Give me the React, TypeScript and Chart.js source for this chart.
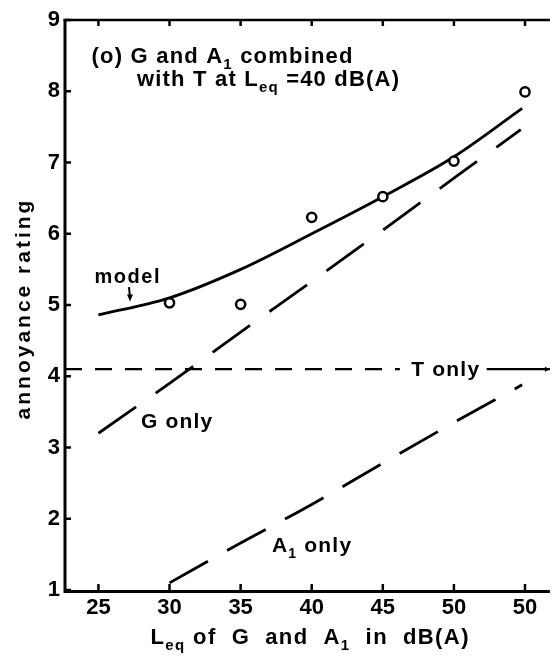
import React, { useEffect, useRef } from "react";
import { Chart, registerables } from "chart.js";
Chart.register(...registerables);

const FONT = '"Liberation Sans", Arial, sans-serif';

// ---- axis ticks ----
const xTicks = [25, 30, 35, 40, 45, 50, 55];
const xTickLabels = ["25", "30", "35", "40", "45", "50", "50"];
const yTicks = [1, 2, 3, 4, 5, 6, 7, 8, 9];
const xMin = 22.65;
const xMax = 56.75;
const yMin = 1;
const yMax = 9;

// ---- measured points (circles) ----
const measuredX = [30, 35, 40, 45, 50, 55];
const measuredY = [5.03, 5.01, 6.23, 6.52, 7.02, 7.99];

// ---- model curve (solid) ----
const modelX = [25, 30, 35, 40, 45, 50, 54.8];
const modelY = [4.86, 5.1, 5.5, 6.0, 6.52, 7.08, 7.76];

// ---- G only (long dashes) ----
const gOnlyX = [25, 30, 35, 40, 45, 50, 54.7];
const gOnlyY = [3.2, 3.9, 4.62, 5.33, 6.05, 6.78, 7.46];

// ---- A1 only (long dashes) ----
const a1OnlyX = [30, 35, 40, 45, 50, 54.8];
const a1OnlyY = [1.1, 1.66, 2.2, 2.78, 3.35, 3.88];

// ---- T only (horizontal) ----
const tOnlyLevel = 4.1;
const tOnlyDashedX = [22.65, 46.2];
const tOnlySolidX = [52.3, 56.75];

const pts = (xs: number[], ys: number[]) => xs.map((x, i) => ({ x, y: ys[i] }));

type Part = { t: string; sub?: boolean };

function drawRich(
  ctx: CanvasRenderingContext2D,
  parts: Part[],
  x: number,
  baseline: number,
  size: number,
  spacing: number,
  align: "left" | "center"
) {
  const fontFor = (p: Part) => `bold ${p.sub ? Math.round(size * 0.68) : size}px ${FONT}`;
  let total = 0;
  for (const p of parts) {
    ctx.font = fontFor(p);
    for (const ch of p.t) total += ctx.measureText(ch).width + spacing;
  }
  total -= spacing;
  let cx = align === "center" ? x - total / 2 : x;
  ctx.textAlign = "left";
  ctx.textBaseline = "alphabetic";
  ctx.fillStyle = "#000";
  for (const p of parts) {
    ctx.font = fontFor(p);
    const dy = p.sub ? size * 0.28 : 0;
    for (const ch of p.t) {
      ctx.fillText(ch, cx, baseline + dy);
      cx += ctx.measureText(ch).width + spacing;
    }
  }
}

const framePlugin = {
  id: "frame",
  afterDatasetsDraw(chart: any) {
    const { ctx, chartArea: a } = chart;
    const xs = chart.scales.x;
    const ys = chart.scales.y;
    ctx.save();
    ctx.strokeStyle = "#000";
    ctx.lineCap = "butt";
    // frame
    ctx.lineWidth = 3;
    ctx.beginPath();
    ctx.moveTo(a.left, a.top - 1);
    ctx.lineTo(a.left, a.bottom + 1.5);
    ctx.lineTo(a.right, a.bottom + 1.5);
    ctx.stroke();
    ctx.lineWidth = 2.5;
    ctx.beginPath();
    ctx.moveTo(a.left - 1.5, a.top);
    ctx.lineTo(a.right, a.top);
    ctx.stroke();
    // inward ticks
    ctx.lineWidth = 2.5;
    for (const v of xTicks) {
      const px = xs.getPixelForValue(v);
      ctx.beginPath();
      ctx.moveTo(px, a.bottom);
      ctx.lineTo(px, a.bottom - 6);
      ctx.moveTo(px, a.top);
      ctx.lineTo(px, a.top + 6);
      ctx.stroke();
    }
    for (const v of yTicks) {
      const py = ys.getPixelForValue(v);
      ctx.beginPath();
      ctx.moveTo(a.left, py);
      ctx.lineTo(a.left + 6, py);
      ctx.stroke();
    }
    // arrowhead at end of T-only line
    const ex = xs.getPixelForValue(tOnlySolidX[1]);
    const ey = ys.getPixelForValue(tOnlyLevel);
    ctx.fillStyle = "#000";
    ctx.beginPath();
    ctx.moveTo(ex, ey);
    ctx.lineTo(ex - 5, ey - 2.5);
    ctx.lineTo(ex - 5, ey + 2.5);
    ctx.closePath();
    ctx.fill();
    // "model" arrow
    const ax1 = xs.getPixelForValue(27.15);
    const ay1 = ys.getPixelForValue(5.25);
    const ax2 = xs.getPixelForValue(27.22);
    const ay2 = ys.getPixelForValue(5.05);
    ctx.lineWidth = 2;
    ctx.beginPath();
    ctx.moveTo(ax1, ay1);
    ctx.lineTo(ax2, ay2 - 4);
    ctx.stroke();
    ctx.beginPath();
    ctx.moveTo(ax2, ay2);
    ctx.lineTo(ax2 - 3, ay2 - 7);
    ctx.lineTo(ax2 + 3, ay2 - 7);
    ctx.closePath();
    ctx.fill();

    // annotation text
    const X = (v: number) => xs.getPixelForValue(v);
    const Y = (v: number) => ys.getPixelForValue(v);
    drawRich(ctx, [{ t: "(o) G and A" }, { t: "1", sub: true }, { t: " combined" }], X(24.52), Y(8.4), 22, 1.2, "left");
    drawRich(ctx, [{ t: "with T at L" }, { t: "eq", sub: true }, { t: " =40 dB(A)" }], X(27.71), Y(8.07), 22, 1.2, "left");
    drawRich(ctx, [{ t: "model" }], X(24.73), Y(5.31), 20, 1.5, "left");
    drawRich(ctx, [{ t: "G only" }], X(27.99), Y(3.27), 21, 1.2, "left");
    drawRich(ctx, [{ t: "T only" }], X(47.0), Y(4.0), 21, 1.2, "left");
    drawRich(ctx, [{ t: "A" }, { t: "1", sub: true }, { t: " only" }], X(37.2), Y(1.53), 21, 1.2, "left");

    // axis titles
    drawRich(
      ctx,
      [{ t: "L" }, { t: "eq", sub: true }, { t: " of  G  and  A" }, { t: "1", sub: true }, { t: "  in  dB(A)" }],
      (a.left + a.right) / 2 + 2,
      chart.height - 12,
      22,
      1.4,
      "center"
    );
    ctx.save();
    ctx.translate(30, 310);
    ctx.rotate(-Math.PI / 2);
    drawRich(ctx, [{ t: "annoyance rating" }], 0, 0, 21, 3, "center");
    ctx.restore();

    ctx.restore();
  },
};

export default function App() {
  const ref = useRef<HTMLCanvasElement | null>(null);
  useEffect(() => {
    if (!ref.current) return;
    const chart = new Chart(ref.current, {
      type: "line",
      data: {
        datasets: [
          {
            data: pts(measuredX, measuredY),
            showLine: false,
            pointRadius: 4.6,
            pointBorderWidth: 2.5,
            pointBackgroundColor: "#fff",
            pointBorderColor: "#000",
            order: 0,
          } as any,
          {
            data: pts(modelX, modelY),
            borderColor: "#000",
            borderWidth: 2.8,
            pointRadius: 0,
            cubicInterpolationMode: "monotone",
            order: 1,
          },
          {
            data: pts(gOnlyX, gOnlyY),
            borderColor: "#000",
            borderWidth: 2.8,
            borderDash: [46, 24],
            pointRadius: 0,
            cubicInterpolationMode: "monotone",
            order: 2,
          },
          {
            data: pts(a1OnlyX, a1OnlyY),
            borderColor: "#000",
            borderWidth: 2.8,
            borderDash: [44, 22],
            pointRadius: 0,
            cubicInterpolationMode: "monotone",
            order: 3,
          },
          {
            data: pts(tOnlyDashedX, [tOnlyLevel, tOnlyLevel]),
            borderColor: "#000",
            borderWidth: 2.3,
            borderDash: [17, 13],
            pointRadius: 0,
            order: 4,
          },
          {
            data: pts(tOnlySolidX, [tOnlyLevel, tOnlyLevel]),
            borderColor: "#000",
            borderWidth: 2.3,
            pointRadius: 0,
            order: 5,
          },
        ],
      },
      options: {
        animation: false,
        responsive: false,
        parsing: true,
        layout: { padding: { top: 20, right: 0, left: 0, bottom: 0 } },
        plugins: { legend: { display: false }, tooltip: { enabled: false }, title: { display: false } },
        scales: {
          x: {
            type: "linear",
            min: xMin,
            max: xMax,
            afterBuildTicks: (s: any) => {
              s.ticks = xTicks.map((v) => ({ value: v }));
            },
            afterFit: (s: any) => {
              s.height = 66;
            },
            grid: { display: false, drawTicks: false },
            border: { display: false },
            ticks: {
              padding: 5,
              maxRotation: 0,
              autoSkip: false,
              color: "#000",
              font: { family: FONT, size: 22, weight: "bold" },
              callback: (v: any) => {
                const i = xTicks.indexOf(Number(v));
                return i >= 0 ? xTickLabels[i] : "";
              },
            },
          },
          y: {
            type: "linear",
            min: yMin,
            max: yMax,
            afterBuildTicks: (s: any) => {
              s.ticks = yTicks.map((v) => ({ value: v }));
            },
            afterFit: (s: any) => {
              s.width = 65;
            },
            grid: { display: false, drawTicks: false },
            border: { display: false },
            ticks: {
              padding: 5,
              autoSkip: false,
              color: "#000",
              font: { family: FONT, size: 22, weight: "bold" },
              callback: (v: any) => String(v),
            },
          },
        },
      },
      plugins: [framePlugin],
    });
    return () => chart.destroy();
  }, []);
  return (
    <div style={{ position: "absolute", left: 0, top: 0, width: 557, height: 656, background: "#fff" }}>
      <canvas ref={ref} width={557} height={656} style={{ display: "block" }} />
    </div>
  );
}
